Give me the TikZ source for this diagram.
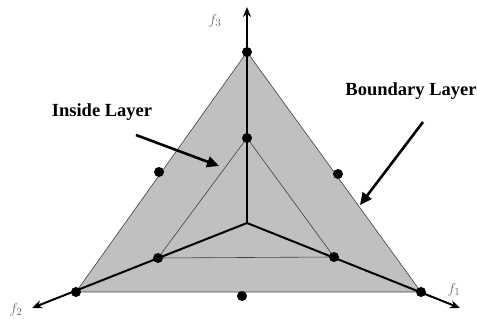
\documentclass[tikz,border=0pt]{standalone}
\usepackage{fontspec}
\setmainfont{Liberation Serif}
\usetikzlibrary{arrows.meta}
\definecolor{fillgray}{RGB}{192,191,193}
\definecolor{labgray}{RGB}{110,110,110}
\tikzset{
  axis/.style={line width=2pt,-{Stealth[length=10pt,width=8pt]}},
  edge/.style={line width=0.6pt,draw=black!75},
  dot/.style={circle,fill=black,inner sep=0pt,minimum size=10pt},
  pointer/.style={line width=2.6pt,-{Triangle[length=12pt,width=11pt]}},
  lab/.style={font=\bfseries\fontsize{18.5}{22}\selectfont},
  axlab/.style={text=labgray,font=\fontsize{15}{17}\selectfont}
}
\begin{document}
\begin{tikzpicture}[x=1pt,y=-1pt]
\useasboundingbox (0,0) rectangle (477,320);
% coordinates
\coordinate (C) at (247,223);
\coordinate (T) at (247,52);
\coordinate (L) at (76,292);
\coordinate (R) at (421,292);
\coordinate (iT) at (247,138);
\coordinate (iL) at (158,258);
\coordinate (iR) at (334,257);
\coordinate (A3) at (247,7);
\coordinate (A2) at (32,308);
\coordinate (A1) at (460,308);
% outer triangle
\filldraw[fill=fillgray,edge] (T) -- (R) -- (L) -- cycle;
% inner triangle
\draw[edge] (iT) -- (iR) -- (iL) -- cycle;
% axes
\draw[axis] (C) -- (A3);
\draw[axis] (C) -- (A2);
\draw[axis] (C) -- (A1);
% dots
\node[dot] (dT) at (T) {};
\node[dot] (dL) at (L) {};
\node[dot] (dR) at (R) {};
\node[dot] (diT) at (iT) {};
\node[dot] (diL) at (iL) {};
\node[dot] (diR) at (iR) {};
\node[dot] (mB) at (242,296) {};
\node[dot] (mL) at (159,172) {};
\node[dot] (mR) at (338,174) {};
% axis labels
\node[axlab] (f3) at (215,21) {$f_3$};
\node[axlab] (f2) at (16,310) {$f_2$};
\node[axlab] (f1) at (454,290) {$f_1$};
% layer labels
\node[lab] (inside) at (102,112) {Inside Layer};
\node[lab] (boundary) at (411,91) {Boundary Layer};
\coordinate (p1s) at (136,135);
\coordinate (p1e) at (219,166);
\coordinate (p2s) at (423,122);
\coordinate (p2e) at (360,205);
\draw[pointer] (p1s) -- (p1e);
\draw[pointer] (p2s) -- (p2e);
\end{tikzpicture}
\end{document}
